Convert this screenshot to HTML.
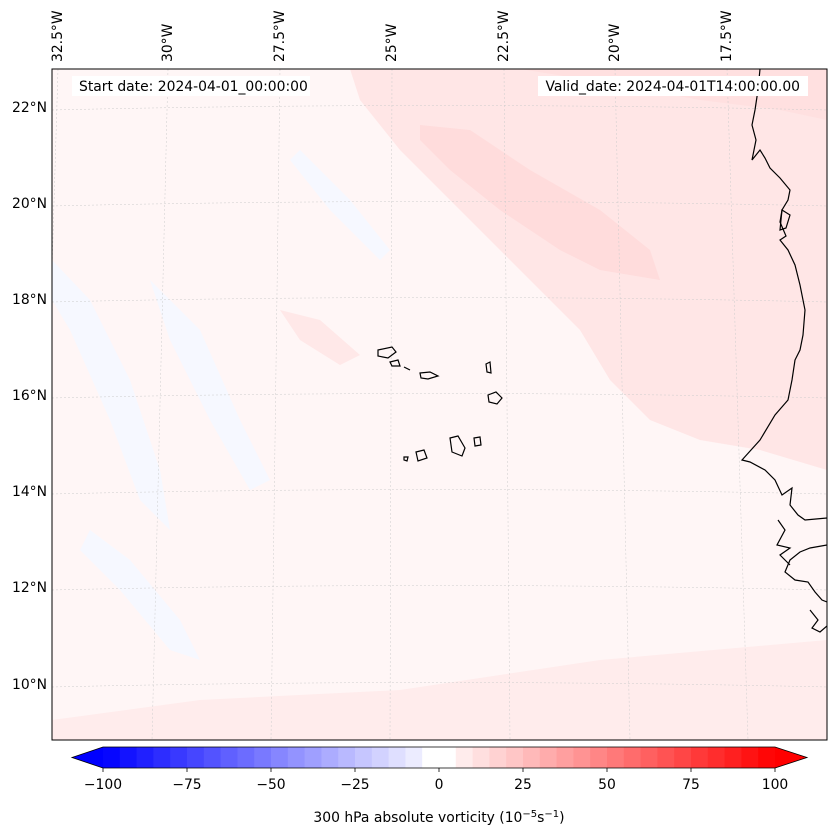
<!DOCTYPE html>
<html><head><meta charset="utf-8"><style>
html,body{margin:0;padding:0;background:#fff;}
svg{display:block;font-family:"DejaVu Sans","Liberation Sans",sans-serif;}
</style></head><body>
<svg id="fig" width="837" height="839" viewBox="0 0 837 839" xmlns="http://www.w3.org/2000/svg">
<defs><clipPath id="mapclip"><rect x="52" y="69" width="775" height="671"/></clipPath></defs>
<g clip-path="url(#mapclip)">
  <rect x="52" y="69" width="775" height="671" fill="#fff6f6"/>
  <path fill="#ffe6e6" d="M350,69 L827,69 L827,470 L760,450 L700,440 L650,420 L610,380 L580,330 L540,290 L500,250 L450,200 L400,150 L360,100 Z"/>
  <path fill="#ffdcdc" d="M420,125 L470,130 L530,170 L600,210 L650,250 L660,280 L600,270 L560,250 L500,210 L450,170 L420,140 Z"/>
  <path fill="#ffe0e0" d="M520,69 L827,69 L827,120 L780,110 L700,100 L620,85 Z"/>
  <path fill="#ffecec" d="M52,720 L200,700 L400,690 L600,660 L827,640 L827,740 L52,740 Z"/>
  <path fill="#ffe8e8" d="M280,310 L320,320 L360,355 L340,365 L300,340 Z"/>
  <path fill="#f6f8ff" d="M52,260 L90,300 L130,380 L160,470 L170,530 L140,500 L110,420 L70,330 L52,300 Z"/>
  <path fill="#f6f8ff" d="M150,280 L200,330 L240,420 L270,480 L250,490 L210,420 L170,340 Z"/>
  <path fill="#f6f8ff" d="M300,150 L350,200 L390,250 L380,260 L330,210 L290,160 Z"/>
  <path fill="#f6f8ff" d="M90,530 L130,560 L180,620 L200,660 L170,650 L120,590 L80,550 Z"/>
  <g id="grid"></g>
  <g fill="none" stroke="#000" stroke-width="1.2">
    <path d="M760,69 L758,90 L755,110 L752,125 L756,140 L752,160 L760,150 L765,158 L770,168 L780,178 L790,190 L788,200 L782,210 L780,222 L786,236 L780,240 L788,250 L795,265 L800,285 L805,310 L803,335 L800,350 L795,360 L792,380 L788,400 L775,415 L760,440 L742,460 L750,462 L765,470 L775,480 L782,495 L792,488 L790,505 L798,515 L805,520 L827,518"/>
    <path d="M827,545 L810,548 L800,552 L790,560 L785,572 L795,580 L808,582 L815,592 L822,600 L827,602"/>
    <path d="M778,520 L785,530 L777,545 L790,548 L780,555 L790,565"/>
    <path d="M810,610 L818,620 L812,628 L820,632 L827,626"/>
    <path d="M782,210 L790,215 L786,228 L780,230 Z"/>
  </g>
  <g fill="none" stroke="#000" stroke-width="1.2">
    <path d="M378,350 L392,347 L396,352 L388,358 L378,356 Z"/>
    <path d="M390,362 L398,360 L400,366 L392,366 Z"/>
    <path d="M404,367 L410,370"/>
    <path d="M420,373 L430,372 L438,376 L428,379 L421,378 Z"/>
    <path d="M486,364 L490,362 L491,373 L487,372 Z"/>
    <path d="M488,395 L496,392 L502,398 L497,404 L489,402 Z"/>
    <path d="M450,438 L458,436 L465,448 L462,456 L452,452 Z"/>
    <path d="M474,438 L480,437 L481,445 L475,446 Z"/>
    <path d="M416,452 L424,450 L427,458 L418,461 Z"/>
    <path d="M404,457 L408,457 L407,461 L404,460 Z"/>
  </g>
  <rect x="72" y="76" width="238" height="20" fill="#fff"/>
  <text x="79" y="91" font-size="13.9">Start date: 2024-04-01_00:00:00</text>
  <rect x="538" y="76" width="270" height="20" fill="#fff"/>
  <text x="800" y="91" font-size="13.9" text-anchor="end">Valid_date: 2024-04-01T14:00:00.00</text>
</g>
<rect x="52" y="69" width="775" height="671" fill="none" stroke="#000" stroke-width="1"/>
<g id="lonlabels"></g>
<g id="latlabels"></g>
<g id="cbar"></g>
<text x="439" y="822" font-size="13.9" text-anchor="middle">300 hPa absolute vorticity (10<tspan dy="-5" font-size="10">−5</tspan><tspan dy="5">s</tspan><tspan dy="-5" font-size="10">−1</tspan><tspan dy="5">)</tspan></text>
</svg>
<script>
const lats = [22, 20, 18, 16, 14, 12, 10];
const latY = [107, 203, 299, 395, 491, 587, 684];
const lonLabels = ["32.5°W","30°W","27.5°W","25°W","22.5°W","20°W","17.5°W"];
const lonTop = [58, 168, 280, 392, 504, 615, 727];
const lonBottom = [38, 152, 271, 390, 510, 630, 748];
const cbarTicks = [-100, -75, -50, -25, 0, 25, 50, 75, 100];
const cbarLevels = [];
for (let v = -100; v < 100; v += 5) cbarLevels.push(v);

const NS = "http://www.w3.org/2000/svg";
function mk(tag, attrs, parent){const e=document.createElementNS(NS,tag);for(const k in attrs)e.setAttribute(k,attrs[k]);parent.appendChild(e);return e;}
const grid = document.getElementById('grid');
lats.forEach((la,i)=>{
  const y=latY[i];
  const p=mk('path',{d:`M52,${y+3} Q440,${y-6} 827,${y+3}`,fill:'none',stroke:'#ccc','stroke-width':0.5,'stroke-dasharray':'2,2'},grid);
  
  
  const t=mk('text',{x:47,y:y+5,'font-size':13.9,'text-anchor':'end'},document.getElementById('latlabels'));
  t.textContent=la+'°N';
  
  
});
lonLabels.forEach((lb,i)=>{
  const p=mk('line',{x1:lonTop[i],y1:69,x2:lonBottom[i],y2:740,stroke:'#ccc','stroke-width':0.5,'stroke-dasharray':'2,2'},grid);
  
  
  const x=lonTop[i]+4;
  const t=mk('text',{x:x,y:62,'font-size':13.9,transform:`rotate(-90 ${x} 62)`},document.getElementById('lonlabels'));
  t.textContent=lb;
  
  
});
const cb=document.getElementById('cbar');
const x0=103,x1=775,y0=747,y1=768;
const sx=v=>x0+(v+100)/200*(x1-x0);
function bwr(v){
  if(v<0){const c=Math.round(255*(1+v));return `rgb(${c},${c},255)`;}
  const c=Math.round(255*(1-v));return `rgb(255,${c},${c})`;
}
cbarLevels.forEach(v=>{
  const mid=(v+2.5)/100;
  const col=(v===-5||v===0)?'#fff':bwr(mid);
  const r=mk('rect',{x:sx(v),y:y0,width:sx(v+5)-sx(v)+0.5,height:y1-y0,fill:col},cb);
  
  
});
const lt=mk('polygon',{points:`${x0},${y0} ${x0},${y1} 72,${(y0+y1)/2}`,fill:'#0000ff'},cb);


const rt=mk('polygon',{points:`${x1},${y0} ${x1},${y1} 807,${(y0+y1)/2}`,fill:'#ff0000'},cb);


const ol=mk('polygon',{points:`72,${(y0+y1)/2} ${x0},${y0} ${x1},${y0} 807,${(y0+y1)/2} ${x1},${y1} ${x0},${y1}`,fill:'none',stroke:'#000','stroke-width':0.8},cb);


cbarTicks.forEach(v=>{
  const x=sx(v);
  const l=mk('line',{x1:x,y1:y1,x2:x,y2:y1+4,stroke:'#000','stroke-width':0.8},cb);
  
  
  const t=mk('text',{x:x,y:y1+21,'font-size':13.9,'text-anchor':'middle'},cb);
  t.textContent=(v<0?'−'+(-v):String(v));
  
  
});
</script>
</body></html>
